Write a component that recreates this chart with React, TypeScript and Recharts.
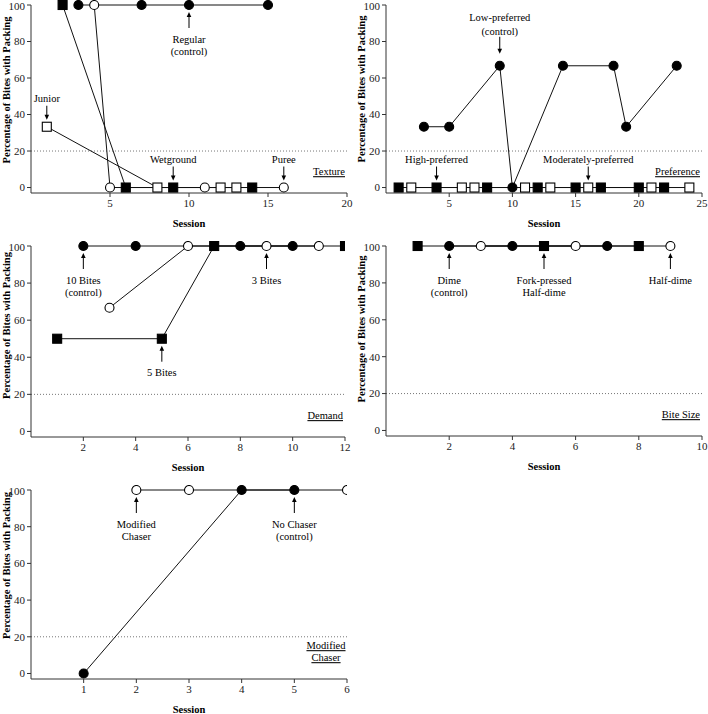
import React from 'react';
import { LineChart, Line, XAxis, YAxis, ReferenceLine, ReferenceDot, Label } from 'recharts';

type Pt = { session: number; pct: number };
type Marker = 'filledCircle' | 'openCircle' | 'filledSquare' | 'openSquare';
type Note = { session: number; pct: number; text: string[]; side: 'above' | 'below' };

const FONT = '"Liberation Serif", "Times New Roman", serif';
const yTicks = [0, 20, 40, 60, 80, 100];
const criterion = 20;

// Texture
const textureTicks = [5, 10, 15, 20];
const textureRegular: Pt[] = [
  { session: 3, pct: 100 }, { session: 7, pct: 100 }, { session: 10, pct: 100 }, { session: 15, pct: 100 },
];
const textureWetground: Pt[] = [
  { session: 2, pct: 100 }, { session: 6, pct: 0 }, { session: 9, pct: 0 }, { session: 14, pct: 0 },
];
const texturePuree: Pt[] = [
  { session: 4, pct: 100 }, { session: 5, pct: 0 }, { session: 11, pct: 0 }, { session: 16, pct: 0 },
];
const textureJunior: Pt[] = [
  { session: 1, pct: 33.3 }, { session: 8, pct: 0 }, { session: 12, pct: 0 }, { session: 13, pct: 0 },
];
const textureNotes: Note[] = [
  { session: 10, pct: 100, text: ['Regular', '(control)'], side: 'below' },
  { session: 1, pct: 33.3, text: ['Junior'], side: 'above' },
  { session: 9, pct: 0, text: ['Wetground'], side: 'above' },
  { session: 16, pct: 0, text: ['Puree'], side: 'above' },
];

// Preference
const prefTicks = [5, 10, 15, 20, 25];
const prefLow: Pt[] = [
  { session: 3, pct: 33.3 }, { session: 5, pct: 33.3 }, { session: 9, pct: 66.7 }, { session: 10, pct: 0 },
  { session: 14, pct: 66.7 }, { session: 18, pct: 66.7 }, { session: 19, pct: 33.3 }, { session: 23, pct: 66.7 },
];
const prefHigh: Pt[] = [
  { session: 1, pct: 0 }, { session: 4, pct: 0 }, { session: 8, pct: 0 }, { session: 12, pct: 0 },
  { session: 15, pct: 0 }, { session: 17, pct: 0 }, { session: 20, pct: 0 }, { session: 22, pct: 0 },
];
const prefModerate: Pt[] = [
  { session: 2, pct: 0 }, { session: 6, pct: 0 }, { session: 7, pct: 0 }, { session: 11, pct: 0 },
  { session: 13, pct: 0 }, { session: 16, pct: 0 }, { session: 21, pct: 0 }, { session: 24, pct: 0 },
];
const prefNotes: Note[] = [
  { session: 9, pct: 66.7, text: ['Low-preferred', '(control)'], side: 'above' },
  { session: 4, pct: 0, text: ['High-preferred'], side: 'above' },
  { session: 16, pct: 0, text: ['Moderately-preferred'], side: 'above' },
];

// Demand
const demandTicks = [2, 4, 6, 8, 10, 12];
const demandTen: Pt[] = [
  { session: 2, pct: 100 }, { session: 4, pct: 100 }, { session: 8, pct: 100 }, { session: 10, pct: 100 },
];
const demandThree: Pt[] = [
  { session: 3, pct: 66.7 }, { session: 6, pct: 100 }, { session: 9, pct: 100 }, { session: 11, pct: 100 },
];
const demandFive: Pt[] = [
  { session: 1, pct: 50 }, { session: 5, pct: 50 }, { session: 7, pct: 100 }, { session: 12, pct: 100 },
];
const demandNotes: Note[] = [
  { session: 2, pct: 100, text: ['10 Bites', '(control)'], side: 'below' },
  { session: 9, pct: 100, text: ['3 Bites'], side: 'below' },
  { session: 5, pct: 50, text: ['5 Bites'], side: 'below' },
];

// Bite size
const biteTicks = [2, 4, 6, 8, 10];
const biteFork: Pt[] = [{ session: 1, pct: 100 }, { session: 5, pct: 100 }, { session: 8, pct: 100 }];
const biteDime: Pt[] = [{ session: 2, pct: 100 }, { session: 4, pct: 100 }, { session: 7, pct: 100 }];
const biteHalf: Pt[] = [{ session: 3, pct: 100 }, { session: 6, pct: 100 }, { session: 9, pct: 100 }];
const biteNotes: Note[] = [
  { session: 2, pct: 100, text: ['Dime', '(control)'], side: 'below' },
  { session: 5, pct: 100, text: ['Fork-pressed', 'Half-dime'], side: 'below' },
  { session: 9, pct: 100, text: ['Half-dime'], side: 'below' },
];

// Modified chaser
const chaserTicks = [1, 2, 3, 4, 5, 6];
const chaserNone: Pt[] = [{ session: 1, pct: 0 }, { session: 4, pct: 100 }, { session: 5, pct: 100 }];
const chaserModified: Pt[] = [{ session: 2, pct: 100 }, { session: 3, pct: 100 }, { session: 6, pct: 100 }];
const chaserNotes: Note[] = [
  { session: 2, pct: 100, text: ['Modified', 'Chaser'], side: 'below' },
  { session: 5, pct: 100, text: ['No Chaser', '(control)'], side: 'below' },
];

const markerDot = (kind: Marker) => (props: any) => {
  const { cx, cy, index } = props;
  const key = `${kind}-${index}`;
  if (cx == null || cy == null) return <g key={key} />;
  const fill = kind.startsWith('filled') ? '#000' : '#fff';
  if (kind.endsWith('Circle')) {
    return <circle key={key} cx={cx} cy={cy} r={4.5} fill={fill} stroke="#000" strokeWidth={1.1} />;
  }
  return <rect key={key} x={cx - 4.5} y={cy - 4.5} width={9} height={9} fill={fill} stroke="#000" strokeWidth={1.1} />;
};

const noteShape = (note: Note) => (props: any) => {
  const { cx, cy } = props;
  let tip: number, tail: number, centers: number[];
  if (note.side === 'above') {
    if (note.text.length > 1) {
      tip = cy - 12; tail = cy - 29; centers = [cy - 48, cy - 34];
    } else {
      tip = cy - 7; tail = cy - 21; centers = [cy - 28];
    }
  } else {
    tip = cy + 7; tail = cy + 23; centers = note.text.length > 1 ? [cy + 34, cy + 46] : [cy + 34];
  }
  const dir = note.side === 'above' ? -1 : 1;
  return (
    <g>
      <line x1={cx} y1={tail} x2={cx} y2={tip + dir * 4} stroke="#000" strokeWidth={1} />
      <polygon points={`${cx},${tip} ${cx - 2.3},${tip + dir * 5} ${cx + 2.3},${tip + dir * 5}`} fill="#000" />
      {note.text.map((t, i) => (
        <text key={i} x={cx} y={centers[i]} dy="0.35em" textAnchor="middle" fontSize={10.5} fontFamily={FONT} fill="#000">
          {t}
        </text>
      ))}
    </g>
  );
};

const titleShape = (lines: string[]) => (props: any) => {
  const { cx, cy } = props;
  const multi = lines.length > 1;
  return (
    <g>
      {lines.map((t, i) => (
        <text
          key={i}
          x={multi ? cx - 21 : cx - 2}
          y={cy - 16 - (lines.length - 1 - i) * 12}
          dy="0.35em"
          textAnchor={multi ? 'middle' : 'end'}
          fontSize={10.5}
          fontFamily={FONT}
          fill="#000"
          style={{ textDecoration: 'underline' }}
        >
          {t}
        </text>
      ))}
    </g>
  );
};

type Series = { data: Pt[]; marker: Marker };

type PanelProps = {
  left: number;
  top: number;
  plotHeight: number;
  marginRight: number;
  xMax: number;
  xTicks: number[];
  series: Series[];
  notes: Note[];
  title: string[];
  yLabelShift: number;
};

const Panel: React.FC<PanelProps> = ({ left, top, plotHeight, marginRight, xMax, xTicks, series, notes, title, yLabelShift }) => {
  const height = 5 + plotHeight + 40;
  return (
    <div style={{ position: 'absolute', left, top }}>
      <LineChart width={354} height={height} margin={{ top: 5, right: marginRight, bottom: 0, left: 0 }}>
        <XAxis
          type="number"
          dataKey="session"
          domain={[0, xMax]}
          ticks={xTicks}
          allowDataOverflow
          height={40}
          tickSize={4}
          axisLine={{ stroke: '#333' }}
          tickLine={{ stroke: '#333' }}
          tick={{ fontSize: 11, fill: '#222', fontFamily: FONT }}
        >
          <Label
            content={(p: any) => {
              const vb = p.viewBox || {};
              const x = (vb.x ?? 31) + (vb.width ?? 316) / 2;
              const y = (vb.y ?? 5 + plotHeight) + 30;
              return (
                <text x={x} y={y} dy="0.35em" textAnchor="middle" fontSize={10.5} fontWeight="bold" fontFamily={FONT} fill="#000">
                  Session
                </text>
              );
            }}
          />
        </XAxis>
        <YAxis
          type="number"
          domain={[-3, 100]}
          ticks={yTicks}
          width={31}
          tickSize={4}
          axisLine={{ stroke: '#333' }}
          tickLine={{ stroke: '#333' }}
          tick={{ fontSize: 11, fill: '#222', fontFamily: FONT }}
        >
          <Label
            content={(p: any) => {
              const vb = p.viewBox || {};
              const x = (vb.x ?? 0) + 9.5;
              const y = (vb.y ?? 5) + (vb.height ?? plotHeight) / 2 + yLabelShift;
              return (
                <text
                  x={x}
                  y={y}
                  transform={`rotate(-90, ${x}, ${y})`}
                  textAnchor="middle"
                  fontSize={10.5}
                  fontWeight="bold"
                  fontFamily={FONT}
                  fill="#000"
                >
                  Percentage of Bites with Packing
                </text>
              );
            }}
          />
        </YAxis>
        <ReferenceLine y={criterion} stroke="#777" strokeDasharray="1 2" strokeWidth={1} />
        {series.map((s, i) => (
          <Line
            key={`line-${i}`}
            data={s.data}
            dataKey="pct"
            type="linear"
            stroke="#111"
            strokeWidth={1}
            dot={false}
            activeDot={false}
            isAnimationActive={false}
          />
        ))}
        {series.map((s, i) => (
          <Line
            key={`dots-${i}`}
            data={s.data}
            dataKey="pct"
            type="linear"
            stroke="none"
            dot={markerDot(s.marker)}
            activeDot={false}
            isAnimationActive={false}
          />
        ))}
        {notes.map((n, i) => (
          <ReferenceDot key={`note-${i}`} x={n.session} y={n.pct} ifOverflow="visible" shape={noteShape(n)} />
        ))}
        <ReferenceDot x={xMax} y={0} ifOverflow="visible" shape={titleShape(title)} />
      </LineChart>
    </div>
  );
};

export default function App() {
  return (
    <div style={{ position: 'absolute', left: 0, top: 0, width: 708, height: 714, background: '#fff', overflow: 'hidden' }}>
      <Panel
        left={0}
        top={0}
        plotHeight={188}
        marginRight={7}
        xMax={20}
        xTicks={textureTicks}
        series={[
          { data: textureRegular, marker: 'filledCircle' },
          { data: textureWetground, marker: 'filledSquare' },
          { data: texturePuree, marker: 'openCircle' },
          { data: textureJunior, marker: 'openSquare' },
        ]}
        notes={textureNotes}
        title={['Texture']}
        yLabelShift={-9}
      />
      <Panel
        left={355}
        top={0}
        plotHeight={188}
        marginRight={7}
        xMax={25}
        xTicks={prefTicks}
        series={[
          { data: prefLow, marker: 'filledCircle' },
          { data: prefHigh, marker: 'filledSquare' },
          { data: prefModerate, marker: 'openSquare' },
        ]}
        notes={prefNotes}
        title={['Preference']}
        yLabelShift={-10}
      />
      <Panel
        left={0}
        top={241}
        plotHeight={191}
        marginRight={9}
        xMax={12}
        xTicks={demandTicks}
        series={[
          { data: demandTen, marker: 'filledCircle' },
          { data: demandThree, marker: 'openCircle' },
          { data: demandFive, marker: 'filledSquare' },
        ]}
        notes={demandNotes}
        title={['Demand']}
        yLabelShift={-16}
      />
      <Panel
        left={355}
        top={241}
        plotHeight={190}
        marginRight={7}
        xMax={10}
        xTicks={biteTicks}
        series={[
          { data: biteFork, marker: 'filledSquare' },
          { data: biteDime, marker: 'filledCircle' },
          { data: biteHalf, marker: 'openCircle' },
        ]}
        notes={biteNotes}
        title={['Bite Size']}
        yLabelShift={-12}
      />
      <Panel
        left={0}
        top={485}
        plotHeight={189}
        marginRight={7}
        xMax={6}
        xTicks={chaserTicks}
        series={[
          { data: chaserNone, marker: 'filledCircle' },
          { data: chaserModified, marker: 'openCircle' },
        ]}
        notes={chaserNotes}
        title={['Modified', 'Chaser']}
        yLabelShift={-19}
      />
    </div>
  );
}
